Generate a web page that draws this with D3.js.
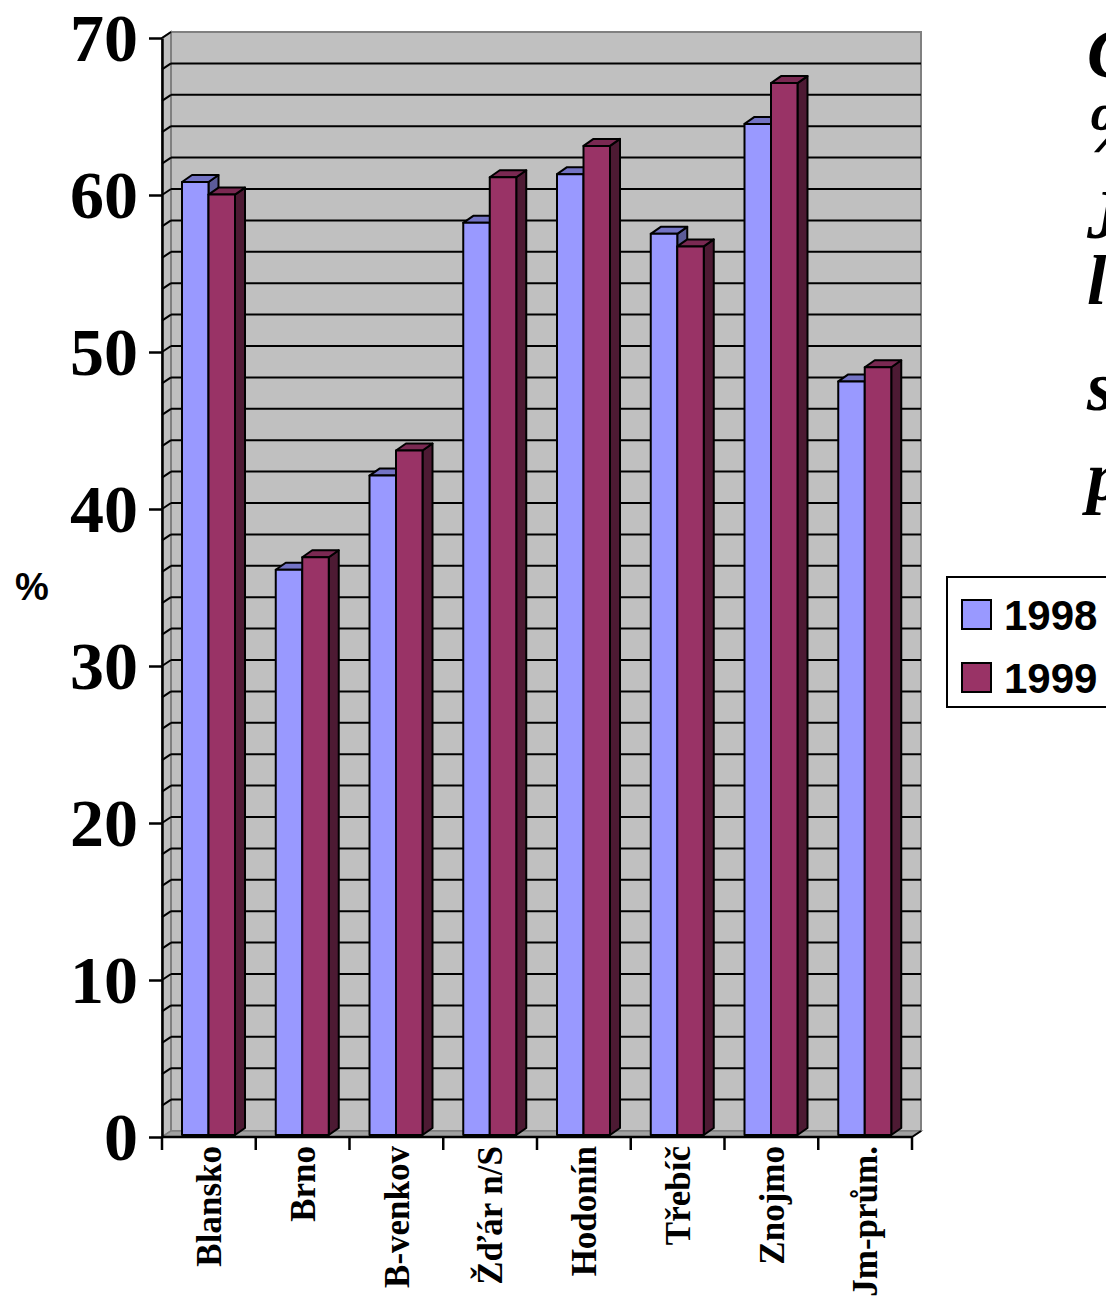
<!DOCTYPE html>
<html>
<head>
<meta charset="utf-8">
<script src="https://cdn.jsdelivr.net/npm/d3@7"></script>
<style>
  html, body { margin: 0; padding: 0; background: #ffffff; overflow: hidden; }
  svg { display: block; }
</style>
</head>
<body>
<script>
// ---- data ----
const categories = ["Blansko", "Brno", "B-venkov", "Žďár n/S", "Hodonín", "Třebíč", "Znojmo", "Jm-prům."];
const years = ["1998", "1999"];
const values1998 = [60.7, 36.0, 42.0, 58.1, 61.2, 57.4, 64.4, 48.0];
const values1999 = [59.9, 36.8, 43.6, 61.0, 63.0, 56.6, 67.0, 48.9];
const yTickValues = [0, 10, 20, 30, 40, 50, 60, 70];
const yAxisTitle = "%";
// only the first letters of the side title are visible in the source picture
const sideTitleLines = ["C", "%", "J", "l", "s", "p"];

// ---- layout ----
const W = 1106, H = 1297;
const colors = {
  "1998": { front: "#9999ff", top: "#7373c4", side: "#5c5c99" },
  "1999": { front: "#993366", top: "#7a2952", side: "#4d1a33" }
};
const wallDx = 9, wallDy = -6;   // depth of the walls
const barDx = 10, barDy = -7;    // depth of the bars

const svg = d3.select("body").append("svg").attr("width", W).attr("height", H);

const y = d3.scaleLinear().domain([0, 70]).range([1137, 38]);
const xCat = d3.scaleBand().domain(categories).range([162, 912]).padding(0);
const xYear = d3.scaleBand().domain(years).range([20, 73]).padding(0);
const yBar = v => y(v) - 2;

const plotLeft = xCat.range()[0], plotRight = xCat.range()[1];

// back wall
svg.append("rect")
  .attr("x", plotLeft + wallDx).attr("y", y(70) + wallDy)
  .attr("width", plotRight - plotLeft).attr("height", y(0) - y(70))
  .attr("fill", "#c0c0c0").attr("stroke", "#808080").attr("stroke-width", 2);

// left side wall
svg.append("polygon")
  .attr("points", [[plotLeft, y(0)], [plotLeft, y(70)], [plotLeft + wallDx, y(70) + wallDy], [plotLeft + wallDx, y(0) + wallDy]].join(" "))
  .attr("fill", "#c0c0c0").attr("stroke", "#808080").attr("stroke-width", 2);

// floor
svg.append("polygon")
  .attr("points", [[plotLeft, y(0)], [plotRight, y(0)], [plotRight + wallDx, y(0) + wallDy], [plotLeft + wallDx, y(0) + wallDy]].join(" "))
  .attr("fill", "#a0a0a0").attr("stroke", "#808080").attr("stroke-width", 1.5);

// gridlines (every 2 units)
const gridVals = d3.range(2, 70, 2);
svg.append("g").selectAll("line").data(gridVals).join("line")
  .attr("x1", plotLeft + wallDx).attr("x2", plotRight + wallDx)
  .attr("y1", d => y(d) + wallDy).attr("y2", d => y(d) + wallDy)
  .attr("stroke", "#000").attr("stroke-width", 2);
svg.append("g").selectAll("line").data(d3.range(2, 71, 2)).join("line")
  .attr("x1", plotLeft).attr("x2", plotLeft + wallDx)
  .attr("y1", d => y(d)).attr("y2", d => y(d) + wallDy)
  .attr("stroke", "#000").attr("stroke-width", 2);

// bars
const series = { "1998": values1998, "1999": values1999 };
const barG = svg.append("g");
categories.forEach((c, i) => {
  years.forEach(yr => {
    const v = series[yr][i];
    const bx = xCat(c) + xYear(yr), bw = xYear.bandwidth();
    const yt = yBar(v), yb = yBar(0);
    const g = barG.append("g")
      .attr("stroke", "#000").attr("stroke-width", 2).attr("stroke-linejoin", "round");
    g.append("polygon")
      .attr("points", [[bx + bw, yt], [bx + bw + barDx, yt + barDy], [bx + bw + barDx, yb + barDy], [bx + bw, yb]].join(" "))
      .attr("fill", colors[yr].side);
    g.append("polygon")
      .attr("points", [[bx, yt], [bx + barDx, yt + barDy], [bx + bw + barDx, yt + barDy], [bx + bw, yt]].join(" "))
      .attr("fill", colors[yr].top);
    g.append("rect")
      .attr("x", bx).attr("y", yt).attr("width", bw).attr("height", yb - yt)
      .attr("fill", colors[yr].front);
  });
});

// y axis
const yAxis = svg.append("g")
  .attr("transform", `translate(${plotLeft},0)`)
  .call(d3.axisLeft(y).tickValues(yTickValues).tickSize(13).tickSizeOuter(0).tickPadding(11).tickFormat(d3.format("d")));
yAxis.select(".domain").attr("stroke", "#000").attr("stroke-width", 2.5);
yAxis.selectAll(".tick line").attr("stroke", "#000").attr("stroke-width", 2.5);
yAxis.selectAll(".tick text")
  .attr("fill", "#000")
  .style("font-family", "'Liberation Serif', 'Times New Roman', serif")
  .style("font-weight", "bold").style("font-size", "68px")
  .attr("dy", "0.33em");

// x axis line and boundary ticks
const xAxisG = svg.append("g");
xAxisG.append("line")
  .attr("x1", plotLeft).attr("x2", plotRight).attr("y1", y(0)).attr("y2", y(0))
  .attr("stroke", "#000").attr("stroke-width", 2.5);
const boundaries = categories.map(c => xCat(c)).concat([plotRight]);
xAxisG.selectAll("line.tk").data(boundaries).join("line").attr("class", "tk")
  .attr("x1", d => d).attr("x2", d => d).attr("y1", y(0)).attr("y2", y(0) + 13)
  .attr("stroke", "#000").attr("stroke-width", 2.5);
svg.append("line")
  .attr("x1", plotRight).attr("y1", y(0)).attr("x2", plotRight + wallDx).attr("y2", y(0) + wallDy)
  .attr("stroke", "#000").attr("stroke-width", 2);

// category labels
svg.append("g").selectAll("text").data(categories).join("text")
  .attr("transform", d => `translate(${xCat(d) + xCat.bandwidth() / 2},1146) rotate(-90)`)
  .attr("text-anchor", "end").attr("dy", "0.35em")
  .style("font-family", "'Liberation Serif', 'Times New Roman', serif")
  .style("font-weight", "bold").style("font-size", "35px")
  .text(d => d);

// y axis title
svg.append("text").attr("x", 32).attr("y", 600).attr("text-anchor", "middle")
  .style("font-family", "'Liberation Sans', Arial, sans-serif")
  .style("font-weight", "bold").style("font-size", "38px")
  .text(yAxisTitle);

// legend
const leg = svg.append("g");
leg.append("rect").attr("x", 947).attr("y", 577).attr("width", 200).attr("height", 130)
  .attr("fill", "#fff").attr("stroke", "#000").attr("stroke-width", 2);
years.forEach((yr, i) => {
  leg.append("rect").attr("x", 962).attr("y", 600 + i * 63).attr("width", 29).attr("height", 29)
    .attr("fill", colors[yr].front).attr("stroke", "#000").attr("stroke-width", 2);
  leg.append("text").attr("x", 1004).attr("y", 630 + i * 63)
    .style("font-family", "'Liberation Sans', Arial, sans-serif")
    .style("font-weight", "bold").style("font-size", "42px")
    .text(yr);
});

// side title (cut by the right edge, as in the source)
const titleBaselines = [77, 152, 238, 304, 410, 500];
svg.append("g").selectAll("text").data(sideTitleLines).join("text")
  .attr("x", 1087).attr("y", (d, i) => titleBaselines[i])
  .style("font-family", "'Liberation Serif', 'Times New Roman', serif")
  .style("font-weight", "bold").style("font-style", "italic").style("font-size", "70px")
  .text(d => d);
</script>
</body>
</html>
